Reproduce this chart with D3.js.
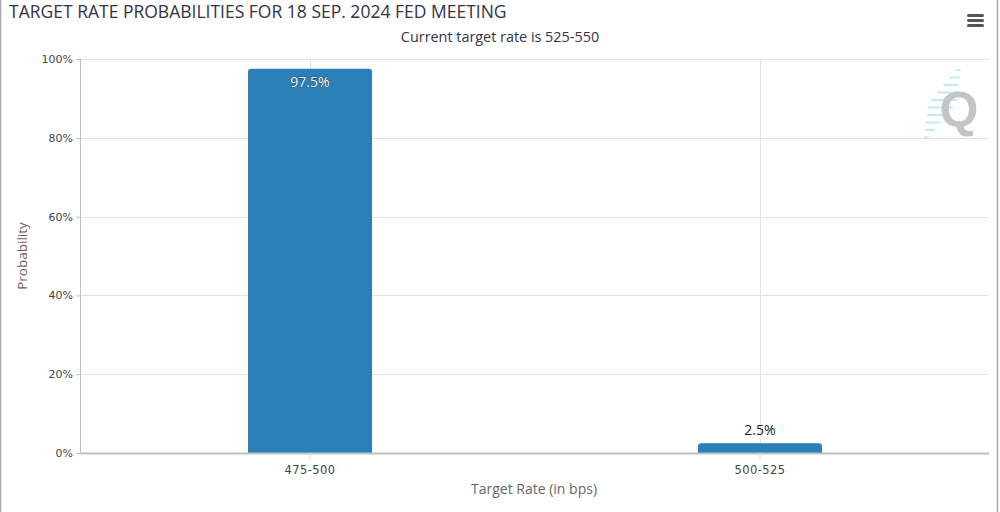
<!DOCTYPE html>
<html>
<head>
<meta charset="utf-8">
<script src="https://cdn.jsdelivr.net/npm/d3@7"></script>
<style>
  body { margin: 0; background: #fff; }
  #chart { width: 1000px; height: 512px; }
</style>
</head>
<body>
<div id="chart"></div>
<script>
// data
const rates = ["475-500", "500-525"]
const probs = [97.5, 2.5]
const yTicks = [0, 20, 40, 60, 80, 100]

function drawChart() {
  const width = 1000
  const height = 512
  const margin = { top: 59, right: 11, bottom: 59, left: 81 }
  const innerW = width - margin.left - margin.right
  const innerH = height - margin.top - margin.bottom

  const svg = d3.select("#chart").append("svg")
    .attr("width", width)
    .attr("height", height)

  // frame
  svg.append("rect")
    .attr("x", 0.5).attr("y", -2)
    .attr("width", 997).attr("height", height + 4)
    .attr("fill", "none").attr("stroke", "#a8a8a8").attr("stroke-width", 1.5)

  svg.append("text")
    .attr("x", 9).attr("y", 18)
    .attr("font-family", "Open Sans, sans-serif")
    .attr("font-size", 17.5)
    .attr("fill", "#333344")
    .text("TARGET RATE PROBABILITIES FOR 18 SEP. 2024 FED MEETING")

  svg.append("text")
    .attr("x", 500).attr("y", 42)
    .attr("text-anchor", "middle")
    .attr("font-family", "Open Sans, sans-serif")
    .attr("font-size", 14.4)
    .attr("fill", "#333344")
    .text("Current target rate is 525-550")

  // menu icon
  const menu = svg.append("g").attr("transform", "translate(967,14)")
  ;[0, 5, 10].forEach(dy => menu.append("rect")
    .attr("x", 0).attr("y", dy).attr("width", 17).attr("height", 3)
    .attr("rx", 1.5).attr("fill", "#555"))

  const bounds = svg.append("g")
    .attr("transform", `translate(${margin.left},${margin.top})`)

  const x = d3.scaleBand()
    .domain(rates)
    .range([0, innerW])
    .paddingInner(0.7244)
    .paddingOuter(0.3711)

  const y = d3.scaleLinear()
    .domain([0, 100])
    .range([innerH, 0])

  // horizontal grid
  bounds.append("g")
    .selectAll("line")
    .data(yTicks)
    .join("line")
    .attr("x1", 0).attr("x2", innerW)
    .attr("y1", d => Math.round(y(d)) + 0.5)
    .attr("y2", d => Math.round(y(d)) + 0.5)
    .attr("stroke", "#e2e2e2")

  // vertical grid at category centres
  bounds.append("g")
    .selectAll("line")
    .data(rates)
    .join("line")
    .attr("x1", d => Math.round(x(d) + x.bandwidth() / 2) + 0.5)
    .attr("x2", d => Math.round(x(d) + x.bandwidth() / 2) + 0.5)
    .attr("y1", 0).attr("y2", innerH)
    .attr("stroke", "#e2e2e2")

  // watermark
  const wm = svg.append("g").attr("transform", "translate(922,64)")
  d3.range(10).forEach(i => {
    const len = 5 + (i < 5 ? i * 5 : (9 - i) * 5)
    const cx = 36 - i * 3.5
    wm.append("line")
      .attr("x1", cx - len / 2).attr("x2", cx + len / 2)
      .attr("y1", 6 + i * 7.5).attr("y2", 6 + i * 7.5)
      .attr("stroke", "#c3e9fb").attr("stroke-width", 2)
  })
  wm.append("text")
    .attr("x", 37).attr("y", 63)
    .attr("text-anchor", "middle")
    .attr("font-family", "Liberation Sans, Arial, sans-serif")
    .attr("font-weight", "bold")
    .attr("font-size", 50)
    .attr("fill", "#c4c4c4")
    .text("Q")

  // bars
  bounds.selectAll(".bar")
    .data(rates)
    .join("path")
    .attr("class", "bar")
    .attr("fill", "#2a7fb8")
    .attr("d", (d, i) => {
      const x0 = x(d), w = x.bandwidth()
      const y0 = y(probs[i]), h = innerH - y0, r = Math.min(3, h / 2)
      return `M${x0},${innerH} V${y0 + r} Q${x0},${y0} ${x0 + r},${y0} H${x0 + w - r} Q${x0 + w},${y0} ${x0 + w},${y0 + r} V${innerH} Z`
    })

  // value labels
  bounds.selectAll(".lbl")
    .data(rates)
    .join("text")
    .attr("class", "lbl")
    .attr("x", d => x(d) + x.bandwidth() / 2)
    .attr("y", (d, i) => probs[i] > 50 ? y(probs[i]) + 18 : y(probs[i]) - 8)
    .attr("text-anchor", "middle")
    .attr("font-family", "Open Sans, sans-serif")
    .attr("font-size", 14)
    .attr("fill", (d, i) => probs[i] > 50 ? "#fff" : "#222")
    .attr("stroke", (d, i) => probs[i] > 50 ? "#222" : "none")
    .attr("stroke-width", 0.6)
    .attr("paint-order", "stroke")
    .text((d, i) => probs[i] + "%")

  // y axis
  const yAxis = bounds.append("g")
    .call(d3.axisLeft(y).tickValues(yTicks).tickFormat(d => d + "%").tickSize(5).tickPadding(3))
  yAxis.select(".domain").attr("stroke", "#c0c0c0").attr("d", `M-0.5,0V${innerH}`)
  yAxis.selectAll(".tick line").attr("stroke", "#c0c0c0")
  yAxis.selectAll(".tick text")
    .attr("font-family", "DejaVu Sans, Verdana, sans-serif")
    .attr("font-size", 11).attr("fill", "#444")

  // x axis
  const xAxis = bounds.append("g")
    .attr("transform", `translate(0,${innerH})`)
    .call(d3.axisBottom(x).tickSize(8).tickPadding(5))
  xAxis.select(".domain").attr("stroke", "#c0c0c0").attr("stroke-width", 2).attr("d", `M0,0.5H${innerW}`)
  xAxis.selectAll(".tick line").attr("stroke", "#d8d8d8")
  xAxis.selectAll(".tick text")
    .attr("font-family", "DejaVu Sans, Verdana, sans-serif")
    .attr("font-size", 11.5).attr("letter-spacing", 0.4).attr("fill", "#444")

  // axis titles
  svg.append("text")
    .attr("transform", `translate(27,${margin.top + innerH / 2}) rotate(-90)`)
    .attr("text-anchor", "middle")
    .attr("font-family", "Open Sans, sans-serif")
    .attr("font-size", 13.5)
    .attr("fill", "#7a5a6a")
    .text("Probability")

  svg.append("text")
    .attr("x", margin.left + innerW / 2 - 1).attr("y", 494)
    .attr("text-anchor", "middle")
    .attr("font-family", "Open Sans, sans-serif")
    .attr("font-size", 14)
    .attr("fill", "#666")
    .text("Target Rate (in bps)")
}
drawChart()
</script>
</body>
</html>
